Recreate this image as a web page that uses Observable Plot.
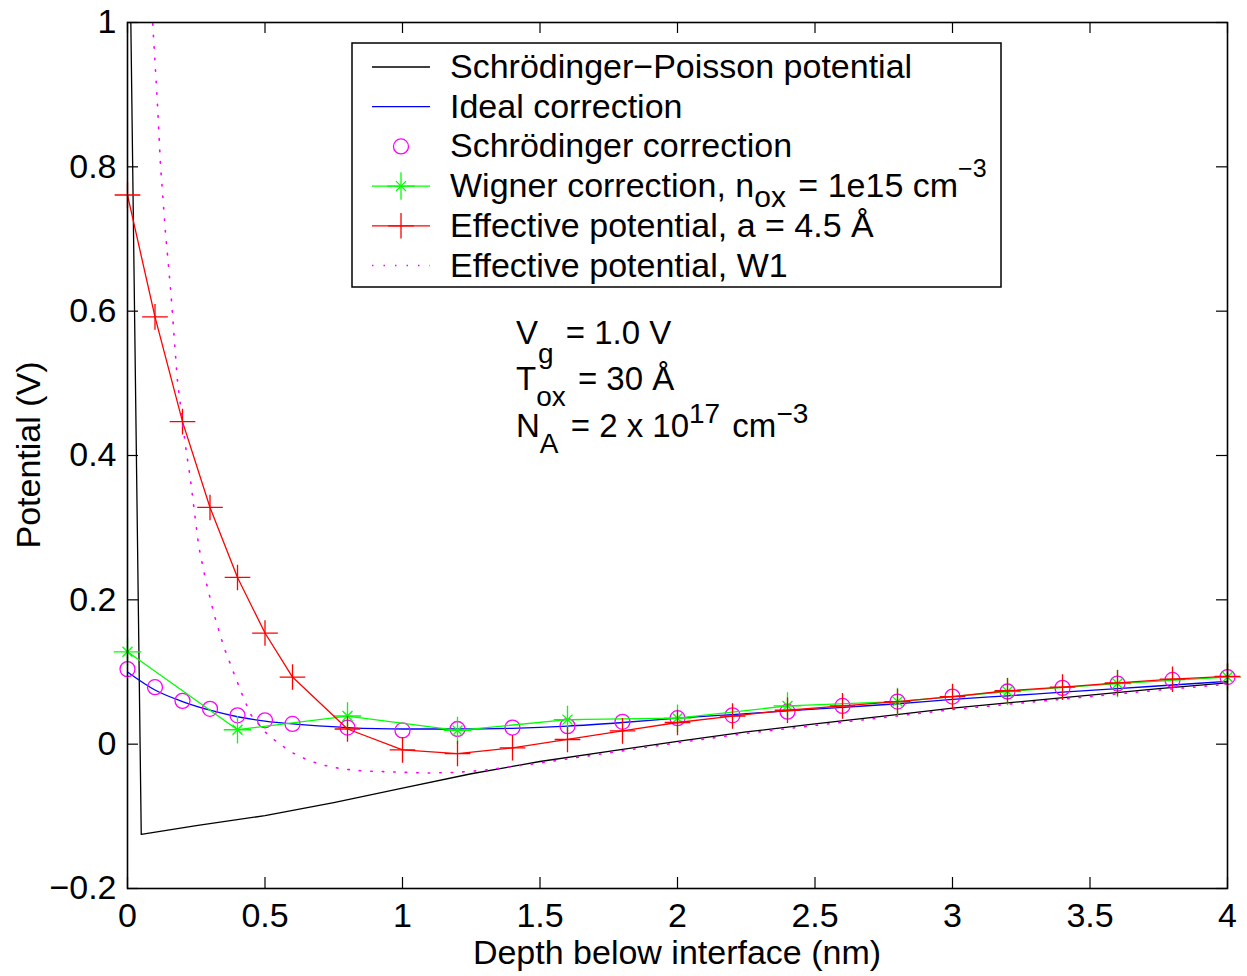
<!DOCTYPE html>
<html><head><meta charset="utf-8">
<script src="https://cdn.jsdelivr.net/npm/d3@7"></script>
<script src="https://cdn.jsdelivr.net/npm/@observablehq/plot@0.6"></script>
<style>body{margin:0;background:#fff}</style>
</head><body><div id="chart"></div>
<script>
// ---- tick values and labels ----
const xTicks = [0, 0.5, 1, 1.5, 2, 2.5, 3, 3.5, 4];
const xTickLabels = ["0", "0.5", "1", "1.5", "2", "2.5", "3", "3.5", "4"];
const yTicks = [-0.2, 0, 0.2, 0.4, 0.6, 0.8, 1];
const yTickLabels = ["\u22120.2", "0", "0.2", "0.4", "0.6", "0.8", "1"];

// ---- Schrödinger–Poisson potential (black) ----
const spX = [0, 0.05, 0.25, 0.5, 0.75, 1.0, 1.25, 1.5, 1.75, 2.0, 2.25, 2.5, 2.75, 3.0, 3.25, 3.5, 3.75, 4.0];
const spY = [1.36, -0.125, -0.113, -0.099, -0.081, -0.061, -0.041, -0.024, -0.010, 0.004, 0.017, 0.028, 0.039, 0.050, 0.059, 0.068, 0.077, 0.085];

// ---- common sample depths for corrections ----
const depthX = [0, 0.1, 0.2, 0.3, 0.4, 0.5, 0.6, 0.8, 1.0, 1.2, 1.4, 1.6, 1.8, 2.0, 2.2, 2.4, 2.6, 2.8, 3.0, 3.2, 3.4, 3.6, 3.8, 4.0];
// Ideal correction (blue)
const idealY = [0.100, 0.075, 0.059, 0.047, 0.038, 0.032, 0.028, 0.023, 0.021, 0.021, 0.022, 0.025, 0.030, 0.036, 0.041, 0.046, 0.051, 0.056, 0.062, 0.067, 0.072, 0.077, 0.082, 0.087];
// Schrödinger correction (magenta circles)
const schY = [0.104, 0.079, 0.060, 0.049, 0.040, 0.033, 0.028, 0.023, 0.019, 0.021, 0.023, 0.025, 0.031, 0.036, 0.040, 0.045, 0.053, 0.059, 0.066, 0.073, 0.078, 0.084, 0.089, 0.093];
// Effective potential a = 4.5 Å (red +)
const effY = [0.761, 0.592, 0.447, 0.328, 0.231, 0.154, 0.093, 0.021, -0.008, -0.013, -0.005, 0.0065, 0.0185, 0.030, 0.039, 0.047, 0.053, 0.059, 0.066, 0.074, 0.079, 0.085, 0.090, 0.094];

// ---- Wigner correction (green *) ----
const wigX = [0, 0.4, 0.8, 1.2, 1.6, 2.0, 2.4, 2.8, 3.2, 3.6, 4.0];
const wigY = [0.128, 0.020, 0.039, 0.019, 0.034, 0.036, 0.053, 0.059, 0.073, 0.084, 0.093];

// ---- Effective potential W1 (magenta dotted) ----
const w1X = [0.088, 0.093, 0.108, 0.12, 0.138, 0.158, 0.172, 0.181, 0.196, 0.211, 0.229, 0.244, 0.259, 0.284, 0.314, 0.35, 0.387, 0.423, 0.45, 0.5, 0.55, 0.6, 0.65, 0.7, 0.775, 0.85, 0.93, 1.0, 1.1, 1.2, 1.3, 1.4, 1.5, 1.75, 2.0, 2.25, 2.5, 2.75, 3.0, 3.25, 3.5, 3.75, 4.0];
const w1Y = [1.03, 0.99, 0.894, 0.802, 0.709, 0.625, 0.552, 0.506, 0.459, 0.413, 0.367, 0.320, 0.274, 0.228, 0.181, 0.135, 0.098, 0.063, 0.040, 0.017, 0.001, -0.012, -0.021, -0.028, -0.034, -0.037, -0.038, -0.039, -0.040, -0.039, -0.036, -0.031, -0.026, -0.012, 0.002, 0.015, 0.026, 0.037, 0.048, 0.057, 0.066, 0.075, 0.083];

const zip = (xs, ys) => xs.map((x, i) => ({x, y: ys[i]}));
const sp = zip(spX, spY), ideal = zip(depthX, idealY), sch = zip(depthX, schY),
      eff = zip(depthX, effY), wig = zip(wigX, wigY), w1 = zip(w1X, w1Y);

const W = 1247, H = 976, ML = 127, MR = 20, MT = 22, MB = 88;
const PW = W - ML - MR, PH = H - MT - MB, TL = 11;
const FONT = "'Liberation Sans', Arial, Helvetica, sans-serif";
const C = {black: "#000000", blue: "#0000ff", mag: "#ff00ff", green: "#00ff00", red: "#ff0000"};
const DOT = "1.5 10";

const chart = Plot.plot({
  width: W, height: H, marginLeft: ML, marginRight: MR, marginTop: MT, marginBottom: MB,
  x: {domain: [0, 4], label: null},
  y: {domain: [-0.2, 1], label: null},
  style: {fontFamily: FONT, fontSize: "34px", background: "white", color: "black"},
  marks: [
    Plot.line(sp, {x: "x", y: "y", stroke: C.black, strokeWidth: 1.3, clip: true}),
    Plot.line(ideal, {x: "x", y: "y", stroke: C.blue, strokeWidth: 1.3, curve: "monotone-x", clip: true}),
    Plot.dot(sch, {x: "x", y: "y", symbol: "circle", r: 7.5, stroke: C.mag, strokeWidth: 1.3, fill: "none"}),
    Plot.line(wig, {x: "x", y: "y", stroke: C.green, strokeWidth: 1.3, clip: true}),
    Plot.dot(wig, {x: "x", y: "y", symbol: "plus", r: 8.9, stroke: C.green, strokeWidth: 1.3}),
    Plot.dot(wig, {x: "x", y: "y", symbol: "times", r: 4.6, stroke: C.green, strokeWidth: 1.3}),
    Plot.line(eff, {x: "x", y: "y", stroke: C.red, strokeWidth: 1.3, clip: true}),
    Plot.dot(eff, {x: "x", y: "y", symbol: "plus", r: 8.3, stroke: C.red, strokeWidth: 1.3}),
    Plot.line(w1, {x: "x", y: "y", stroke: C.mag, strokeWidth: 1.6, strokeDasharray: DOT, clip: true}),
    Plot.frame({stroke: "black", strokeWidth: 1.6}),
    // inward ticks on all four sides
    Plot.tickX(xTicks, {x: d => d, insetTop: PH - TL, stroke: "black", strokeWidth: 1.2}),
    Plot.tickX(xTicks, {x: d => d, insetBottom: PH - TL, stroke: "black", strokeWidth: 1.2}),
    Plot.tickY(yTicks, {y: d => d, insetRight: PW - TL, stroke: "black", strokeWidth: 1.2}),
    Plot.tickY(yTicks, {y: d => d, insetLeft: PW - TL, stroke: "black", strokeWidth: 1.2}),
    Plot.axisX(xTicks, {tickSize: 0, tickPadding: 14, fontSize: 34, label: null,
      tickFormat: d => xTickLabels[xTicks.indexOf(d)]}),
    Plot.axisY(yTicks, {tickSize: 0, tickPadding: 11, fontSize: 34, label: null,
      tickFormat: d => yTickLabels[yTicks.indexOf(d)]})
  ]
});
document.getElementById("chart").appendChild(chart);

const svg = d3.select(chart);
svg.selectAll("text").style("fill", "black");

// axis titles
svg.append("text").attr("x", ML + PW / 2).attr("y", 964).attr("text-anchor", "middle")
  .style("font-family", FONT).style("font-size", "34px").text("Depth below interface (nm)");
svg.append("text").attr("transform", `translate(40,${MT + PH / 2}) rotate(-90)`).attr("text-anchor", "middle")
  .style("font-family", FONT).style("font-size", "34px").text("Potential (V)");

// lays out a run of text pieces (normal / sub / sup) as separate, side-by-side text elements
function textRun(g, x0, y0, parts, baseSize) {
  let x = x0;
  parts.forEach(([s, dy, size]) => {
    const t = g.append("text").attr("x", x).attr("y", y0 + (dy || 0)).attr("text-anchor", "start")
      .style("font-family", FONT).style("font-size", (size || baseSize) + "px").style("fill", "black")
      .attr("xml:space", "preserve").text(s);
    x += t.node().getComputedTextLength() + (dy ? 3 : 0);
  });
}

// legend
const lg = svg.append("g");
lg.append("rect").attr("x", 352).attr("y", 43).attr("width", 649).attr("height", 244)
  .attr("fill", "white").attr("stroke", "black").attr("stroke-width", 1.5);
const legendItems = [
  {label: [["Schrödinger\u2212Poisson potential"]], color: C.black, line: true},
  {label: [["Ideal correction"]], color: C.blue, line: true},
  {label: [["Schrödinger correction"]], color: C.mag, line: false, circle: true},
  {label: [["Wigner correction, n"], ["ox", 10, 30], [" = 1e15 cm"], ["\u22123", -20, 25]], color: C.green, line: true, star: true},
  {label: [["Effective potential, a = 4.5 Å"]], color: C.red, line: true, plus: true},
  {label: [["Effective potential, W1"]], color: C.mag, line: true, dotted: true}
];
const sym = (type, r) => d3.symbol(type, r * r * Math.PI)();
legendItems.forEach((it, i) => {
  const cy = 67 + i * 39.7;
  if (it.line) {
    lg.append("line").attr("x1", 372).attr("x2", 430).attr("y1", cy).attr("y2", cy)
      .attr("stroke", it.color).attr("stroke-width", it.dotted ? 1.6 : 1.3)
      .attr("stroke-dasharray", it.dotted ? DOT : null);
  }
  if (it.circle) lg.append("circle").attr("cx", 401).attr("cy", cy).attr("r", 7.5)
    .attr("fill", "none").attr("stroke", it.color).attr("stroke-width", 1.3);
  if (it.star) {
    lg.append("path").attr("d", sym(d3.symbolPlus, 8.9)).attr("transform", `translate(401,${cy})`)
      .attr("fill", "none").attr("stroke", it.color).attr("stroke-width", 1.3);
    lg.append("path").attr("d", sym(d3.symbolTimes, 4.6)).attr("transform", `translate(401,${cy})`)
      .attr("fill", "none").attr("stroke", it.color).attr("stroke-width", 1.3);
  }
  if (it.plus) lg.append("path").attr("d", sym(d3.symbolPlus, 8.3)).attr("transform", `translate(401,${cy})`)
    .attr("fill", "none").attr("stroke", it.color).attr("stroke-width", 1.3);
  textRun(lg, 450, cy + 11, it.label, 34);
});

// annotation block
const ann = [
  {y: 344, parts: [["V"], ["g", 19, 28], [" = 1.0 V"]]},
  {y: 390, parts: [["T"], ["ox", 16, 28], [" = 30 Å"]]},
  {y: 437, parts: [["N"], ["A", 16, 28], [" = 2 x 10"], ["17", -14, 28], [" cm"], ["\u22123", -14, 28]]}
];
const ag = svg.append("g");
ann.forEach(row => textRun(ag, 516, row.y, row.parts, 33));
</script>
</body></html>
